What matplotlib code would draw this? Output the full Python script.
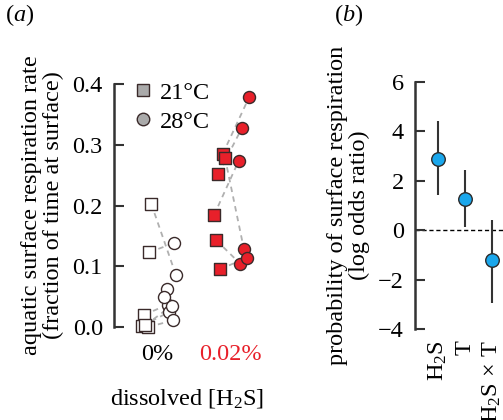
import numpy as np
import matplotlib
matplotlib.use("Agg")
import matplotlib.pyplot as plt
from matplotlib.lines import Line2D
from matplotlib import font_manager

# make sure the Times-like serif is registered
for p in font_manager.findSystemFonts():
    if 'LiberationSerif' in p:
        font_manager.fontManager.addfont(p)

plt.rcParams['font.family'] = 'serif'
plt.rcParams['font.serif'] = ['Liberation Serif', 'DejaVu Serif']
plt.rcParams['mathtext.fontset'] = 'custom'
plt.rcParams['mathtext.rm'] = 'Liberation Serif'
plt.rcParams['mathtext.it'] = 'Liberation Serif:italic'
plt.rcParams['font.size'] = 17.5

# panel (a): surface respiration rate, paired by individual (21 -> 28 C)
groups = ['0%', '0.02%']
group_colors = ['black', '#e8202a']
fill_colors = ['white', '#e8202a']
h2s_0_21 = [0.203, 0.123, 0.020, 0.002, 0.000, 0.003, np.nan, np.nan]
h2s_0_28 = [0.085, 0.138, 0.037, 0.025, 0.011, 0.035, 0.062, 0.049]
h2s_0_21_jit = [-0.08, -0.11, -0.18, -0.20, -0.12, -0.16, 0, 0]
h2s_0_28_jit = [0.26, 0.23, 0.15, 0.17, 0.22, 0.20, 0.14, 0.10]
h2s_02_21 = [0.285, 0.252, 0.279, 0.184, 0.143, 0.095]
h2s_02_28 = [0.378, 0.327, 0.128, 0.274, 0.104, 0.114]
h2s_02_21_jit = [-0.10, -0.16, -0.07, -0.22, -0.19, -0.14]
h2s_02_28_jit = [0.26, 0.16, 0.19, 0.12, 0.14, 0.23]

# panel (b): model coefficients
terms = ['H$_2$S', 'T', 'H$_2$S$\\,\\times\\,$T']
coef = [2.88, 1.25, -1.21]
ci_low = [1.43, 0.13, -2.94]
ci_high = [4.41, 2.45, 0.40]

edge = '#3a2a2a'
spine_c = '#333333'

fig = plt.figure(figsize=(5.03, 4.2), dpi=100)
ax = fig.add_axes([0.2266, 0.2214, 0.2903, 0.5786])
bx = fig.add_axes([0.825, 0.2167, 0.175, 0.588])

data_a = [(h2s_0_21, h2s_0_28, h2s_0_21_jit, h2s_0_28_jit),
          (h2s_02_21, h2s_02_28, h2s_02_21_jit, h2s_02_28_jit)]
for g, (y21, y28, j21, j28) in enumerate(data_a):
    x21 = g + np.array(j21)
    x28 = g + np.array(j28)
    y21 = np.array(y21)
    y28 = np.array(y28)
    for i in range(len(y21)):
        if not np.isnan(y21[i]):
            ax.plot([x21[i], x28[i]], [y21[i], y28[i]], ls=(0, (3, 2.5)),
                    color='#b0b0b0', lw=1.3, zorder=1)
    ok = ~np.isnan(y21)
    ax.scatter(x21[ok], y21[ok], marker='s', s=70, facecolor=fill_colors[g],
               edgecolor=edge, lw=1.0, zorder=3, clip_on=False)
    ax.scatter(x28, y28, marker='o', s=75, facecolor=fill_colors[g],
               edgecolor=edge, lw=1.0, zorder=3, clip_on=False)

ax.set_xlim(-0.59, 1.41)
ax.set_ylim(0, 0.4)
ax.set_yticks([0, 0.1, 0.2, 0.3, 0.4])
ax.set_yticklabels(['0.0', '0.1', '0.2', '0.3', '0.4'])
ax.set_xticks([0, 1])
ax.set_xticklabels(groups)
for lab, c in zip(ax.get_xticklabels(), group_colors):
    lab.set_color(c)
ax.tick_params(axis='x', length=0, pad=12)
ax.tick_params(axis='y', direction='in', length=7, width=1.5, color=spine_c, pad=8)
for s in ['top', 'right', 'bottom']:
    ax.spines[s].set_visible(False)
ax.spines['left'].set_color(spine_c)
ax.spines['left'].set_linewidth(1.8)
ax.set_ylabel('aquatic surface respiration rate\n(fraction of time at surface)',
              linespacing=1.05, labelpad=6)
ax.set_xlabel('dissolved [H$_2$S]', labelpad=16)

handles = [Line2D([], [], marker='s', ls='none', ms=9, mfc='#aaaaaa', mec=edge, mew=1.0),
           Line2D([], [], marker='o', ls='none', ms=9, mfc='#aaaaaa', mec=edge, mew=1.0)]
ax.legend(handles, ['21°C', '28°C'], loc='upper left', bbox_to_anchor=(0.05, 1.05),
          frameon=False, handletextpad=0.2, labelspacing=0.3, borderaxespad=0,
          handlelength=1.0, fontsize=17.5)

# panel (b)
xb = np.arange(1, len(terms) + 1)
bx.axhline(0, color='black', ls=(0, (3, 2)), lw=1.0, zorder=0)
bx.vlines(xb, ci_low, ci_high, color='#333333', lw=1.5, zorder=1)
bx.scatter(xb, coef, s=95, facecolor='#1aa7ec', edgecolor='#2a2a2a', lw=1.0, zorder=3)
bx.set_xlim(0.15, 3.41)
bx.set_ylim(-4, 6)
bx.set_yticks([-4, -2, 0, 2, 4, 6])
bx.set_yticklabels(['\u22124', '\u22122', '0', '2', '4', '6'])
bx.set_xticks(xb)
bx.set_xticklabels(terms, rotation=90, va='top', ha='center')
bx.tick_params(axis='x', length=0, pad=8)
bx.tick_params(axis='y', direction='in', length=7, width=1.5, color=spine_c, pad=8)
for s in ['top', 'right', 'bottom']:
    bx.spines[s].set_visible(False)
bx.spines['left'].set_color(spine_c)
bx.spines['left'].set_linewidth(1.8)
bx.set_ylabel('probability of surface respiration\n(log odds ratio)',
              linespacing=1.05, labelpad=6)

fig.text(0.01, 0.965, '($a$)', fontsize=17.5, va='center')
fig.text(0.665, 0.965, '($b$)', fontsize=17.5, va='center')

fig.savefig('out.png', dpi=100)
